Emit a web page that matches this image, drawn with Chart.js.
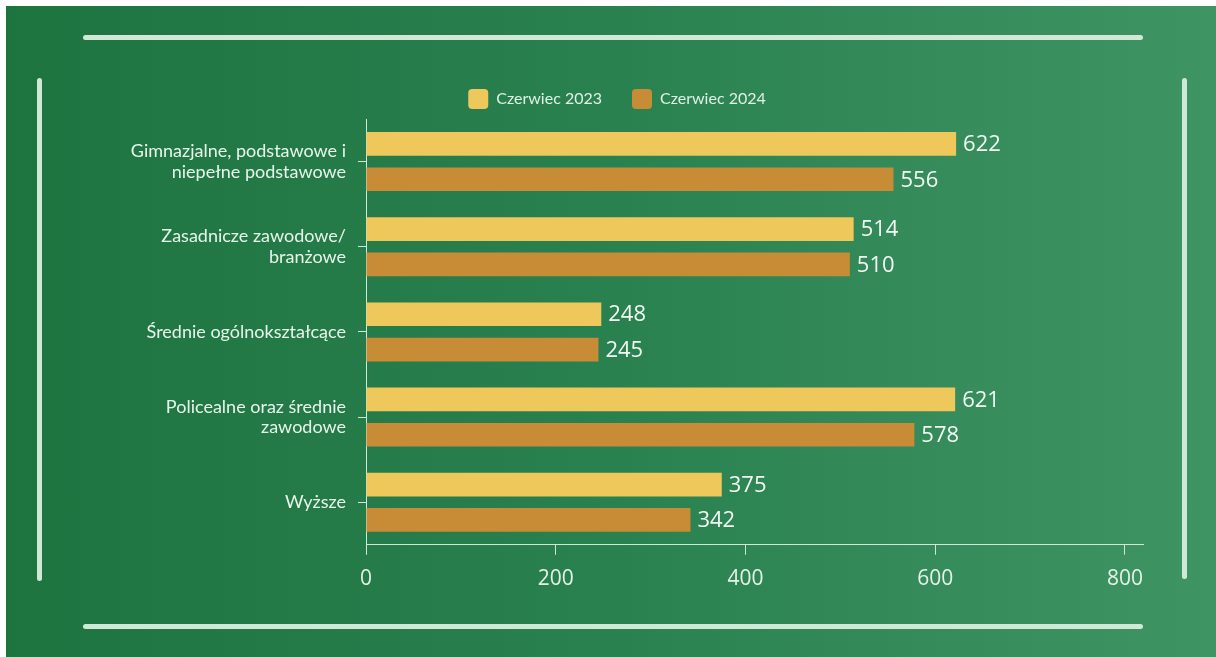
<!DOCTYPE html>
<html>
<head>
<meta charset="utf-8">
<script src="https://cdn.jsdelivr.net/npm/chart.js@4.4.1/dist/chart.umd.min.js"></script>
<style>
  html, body { margin: 0; padding: 0; background: #fff; }
  #board {
    position: absolute; left: 6px; top: 6px; width: 1210px; height: 651px;
    background: linear-gradient(90deg, #1d743f 0%, #2a8150 50%, #3f9464 100%);
  }
  .rule { position: absolute; background: #cfe9d6; border-radius: 3px; }
  #wrap { position: absolute; left: 0; top: 0; width: 1216px; height: 657px; }
</style>
</head>
<body>
<div id="board"></div>
<div class="rule" style="left:83px; top:35px; width:1060px; height:5px;"></div>
<div class="rule" style="left:83px; top:624px; width:1060px; height:5px;"></div>
<div class="rule" style="left:37px; top:78px; width:5px; height:503px;"></div>
<div class="rule" style="left:1182px; top:78px; width:5px; height:501px;"></div>
<div id="wrap"><canvas id="eduChart"></canvas></div>

<script>
// poziom wykształcenia
var categories = [
  ["Gimnazjalne, podstawowe i", "niepełne podstawowe"],
  ["Zasadnicze zawodowe/", "branżowe"],
  "Średnie ogólnokształcące",
  ["Policealne oraz średnie", "zawodowe"],
  "Wyższe"
];
var june2023 = [622, 514, 248, 621, 375];
var june2024 = [556, 510, 245, 578, 342];
var seriesNames = ["Czerwiec 2023", "Czerwiec 2024"];
var xTicks = [0, 200, 400, 600, 800];

var mint = "#cfe9d6";

// liczby przy słupkach
var valueLabels = {
  id: "valueLabels",
  afterDatasetsDraw(chart) {
    var ctx = chart.ctx;
    ctx.save();
    ctx.font = "22px 'Open Sans'";
    ctx.fillStyle = "#f2faf4";
    ctx.textBaseline = "middle";
    ctx.textAlign = "left";
    chart.data.datasets.forEach(function (ds, i) {
      chart.getDatasetMeta(i).data.forEach(function (bar, j) {
        ctx.fillText(ds.data[j], bar.x + 7, bar.y + 1);
      });
    });
    ctx.restore();
  }
};

var ctx = document.getElementById("eduChart").getContext("2d");
var eduChart = new Chart(ctx, {
  type: "bar",
  data: {
    labels: categories,
    datasets: [
      {
        label: seriesNames[0],
        data: june2023,
        backgroundColor: "#eec85a",
        categoryPercentage: 0.83,
        barPercentage: 0.67
      },
      {
        label: seriesNames[1],
        data: june2024,
        backgroundColor: "#c88c36",
        categoryPercentage: 0.83,
        barPercentage: 0.67
      }
    ]
  },
  options: {
    indexAxis: "y",
    responsive: true,
    maintainAspectRatio: false,
    animation: false,
    layout: {
      padding: { left: 91, right: 73, top: 59, bottom: 53 }
    },
    plugins: {
      tooltip: { enabled: false },
      legend: {
        position: "top",
        labels: {
          color: "#dff1e5",
          font: { family: "Lato", size: 16 },
          boxWidth: 20,
          boxHeight: 20,
          padding: 30,
          useBorderRadius: true,
          borderRadius: 4
        }
      }
    },
    scales: {
      x: {
        min: 0,
        max: 819,
        border: { color: mint, width: 1 },
        grid: { drawOnChartArea: false, drawTicks: true, tickLength: 10, color: mint },
        ticks: {
          stepSize: 200,
          includeBounds: false,
          color: "#e3f3e8",
          padding: 12,
          font: { family: "Open Sans", size: 21 }
        },
        afterBuildTicks(scale) {
          scale.ticks = xTicks.map(function (v) { return { value: v }; });
        }
      },
      y: {
        border: { color: mint, width: 1 },
        grid: { drawOnChartArea: false, offset: false, tickLength: 8, color: mint },
        ticks: {
          color: "#e8f5ec",
          padding: 12,
          font: { family: "Lato", size: 18, lineHeight: 1.15 }
        },
        afterFit(scale) {
          scale.width = 275;
        }
      }
    }
  },
  plugins: [valueLabels]
});
</script>
</body>
</html>
